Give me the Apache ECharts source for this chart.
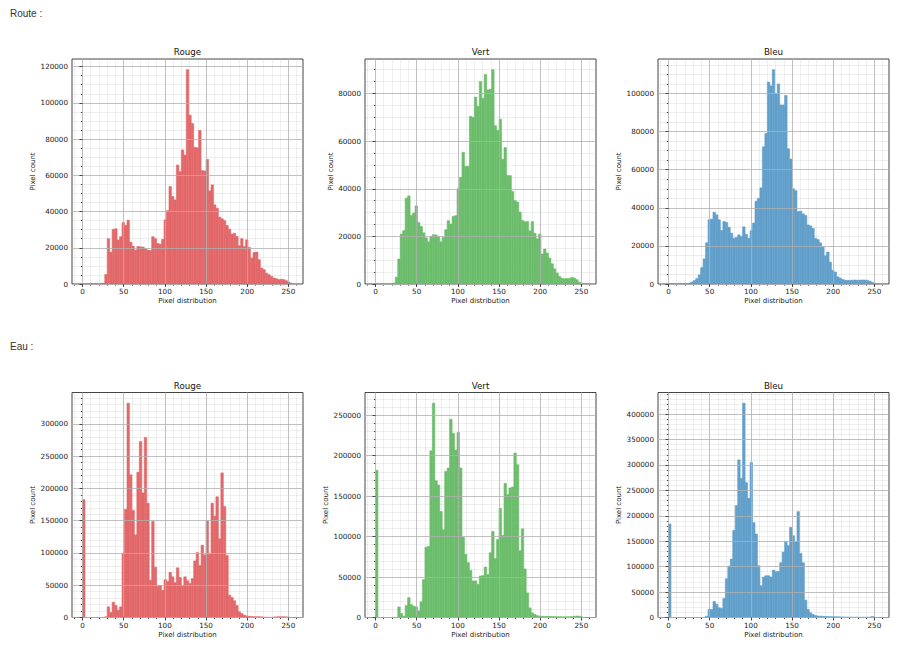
<!DOCTYPE html>
<html>
<head>
<meta charset="utf-8">
<title>Histogrammes Route / Eau</title>
<script src="https://cdn.jsdelivr.net/npm/echarts@6/dist/echarts.min.js"></script>
<style>
  html, body { margin: 0; padding: 0; background: #fff; }
  #chart { width: 914px; height: 648px; }
</style>
</head>
<body>
<div id="chart"></div>
<script>
// 85 bins of width 3 covering 0..255
const binWidth = 3;

const routeRouge = [
  0, 0, 0, 0, 0, 0, 0, 0,
  500, 5200, 25000, 17600, 30200, 30500, 24300, 26100, 33900, 32400,
  35200, 23100, 20900, 18700, 20700, 20500, 20400, 19400, 18700, 18500,
  26100, 25000, 22400, 22000, 24600, 35400, 40500, 53800, 48300, 46400,
  65700, 62000, 74000, 71200, 118300, 93200, 88600, 75400, 75200, 84800,
  62600, 62400, 68800, 51400, 54700, 43700, 41800, 36900, 36000, 35000,
  32300, 30300, 27500, 28000, 26300, 21100, 25000, 20700, 24400, 20200,
  14300, 17400, 17600, 13400, 8800, 7900, 6000, 5100, 4200, 3300,
  2900, 2400, 2600, 2400, 1800, 1100, 400
];
const routeVert = [
  0, 0, 0, 0, 0, 0, 0,
  400, 2900, 10500, 21000, 22400, 36100, 37000, 28800, 29800, 32800,
  25800, 24200, 21500, 19400, 17700, 20000, 20700, 20600, 20000, 17700,
  19600, 22800, 26600, 25200, 28400, 28700,
  40000, 44800, 55300, 49400, 49400, 70400, 70000, 78500, 74600, 85000, 78000, 88000, 81500, 81800, 90000,
  66500, 64500, 69200, 52400, 57300, 45600, 45500, 38900, 35000, 34400,
  30200, 26700, 26100, 26300, 22300, 26200, 21300, 19000, 21000, 12600,
  14700, 13000, 10900, 8500, 6400, 4600, 3200, 2400, 2200, 2300,
  2300, 2800, 2500, 1800, 800, 300, 0
];
const routeBleu = [
  0, 0, 0, 0, 0, 0, 0,
  200, 400, 1000, 1800, 2800, 4800, 8600, 13200, 21600, 33700,
  34000, 37700, 36300, 33700, 28100, 32800, 32300, 29800, 26700, 24000,
  24500, 25800, 25000, 30000, 26000, 24000, 28000, 32000, 43500, 45000,
  50500, 72000, 79000, 106000, 104000, 112500, 100000, 105000, 94000, 94000,
  99000, 71000, 65600,
  50000, 49000, 38000, 38200, 36800, 36000, 31000, 30500, 29200, 24000,
  23300, 21600, 19400, 14800, 16800, 11500, 7200, 6300, 3800,
  3100, 2400, 2000, 1900, 1900, 2000, 2100, 2000, 2000, 2100,
  2100, 1900, 1500, 900, 300, 0
];
const eauRouge = [
  182500,
  0, 0, 0, 0, 0, 0, 0, 0,
  1000, 16500, 7700, 23700, 18500, 11300, 16500, 99000, 167500, 332000,
  221000, 166000, 128000, 225000, 272500, 193000, 279000, 177000, 57700, 149000,
  78000, 48500, 49500, 42000, 58500, 56000, 70000, 63000, 54000, 77000,
  62000, 48500, 63000, 57000, 52600, 60300, 87600, 100500, 80400, 112000,
  97000, 150000, 98000, 177000, 157000, 187000, 122000, 224000, 172000, 96000,
  34500, 31000, 26000, 18500, 8800, 6000, 3500, 2500, 1800, 1500,
  1300, 1200, 1200, 1000, 700, 500, 300, 200, 700, 1000,
  1200, 1200, 1100, 1000, 500, 200
];
const eauVert = [
  182000,
  0, 0, 0, 0, 0, 0, 0, 0,
  13000, 5000, 1600, 14800, 24600, 16000, 14000, 13100, 8200, 19300,
  46800, 87000, 87800, 206000, 264800, 169000, 163800, 131000, 108400, 180600,
  184700, 245000, 227400, 206900, 228600, 184700, 99300, 78000, 67700, 58300,
  45200, 45200, 41000, 51300, 51700, 62400, 53000, 80000, 106300, 72700,
  96500, 135000, 101400, 165800, 151900, 160100, 161300, 203200, 188800, 82500,
  109600, 60000, 30400, 11900, 5700, 3700, 2300, 1700, 1500, 1400,
  1300, 1300, 1200, 1100, 1000, 1000, 900, 900, 900, 1000,
  1100, 1500, 1800, 1600, 800, 0
];
const eauBleu = [
  184000,
  0, 0, 0, 0, 0, 0, 0, 0, 0, 0, 0, 0, 0, 0,
  2600, 15800, 15800, 31500, 26300, 19000, 17700, 37400, 76200, 101100,
  115000, 171400, 220000, 310000, 273900, 421500, 265400, 234500, 304800, 186500,
  164200, 101800, 62400, 79500, 82100, 82100, 79500, 93300, 90000, 90600,
  107700, 128700, 149100, 141200, 177300, 160900, 149100, 208200, 126100, 107700,
  34200, 15800, 9200, 5900, 3900, 2900, 2500, 2300, 2000, 1800,
  1700, 1600, 1500, 1400, 1200, 1000, 900, 800, 700, 700,
  600, 600, 500, 500, 500, 600, 800, 2000, 500, 0
];

const xTicks = [0, 50, 100, 150, 200, 250];
const xMinorTicks = [-10, 10, 20, 30, 40, 60, 70, 80, 90, 110, 120, 130, 140,
  160, 170, 180, 190, 210, 220, 230, 240, 260];

const sections = ['Route :', 'Eau :'];
const channels = ['Rouge', 'Vert', 'Bleu'];
// tab:red / tab:green / tab:blue at alpha 0.7 over white
const colors = ['rgb(226,104,105)', 'rgb(107,189,107)', 'rgb(98,160,203)'];
const series = [routeRouge, routeVert, routeBleu, eauRouge, eauVert, eauBleu];
const yStep = [20000, 20000, 20000, 50000, 50000, 50000];
const yMinorStep = [5000, 5000, 5000, 10000, 10000, 10000];

// panel boxes (pixels)
const boxes = [
  { left: 72, top: 59, width: 231, height: 225, gap: 35 },
  { left: 365, top: 59, width: 231, height: 225, gap: 30 },
  { left: 658, top: 59, width: 231, height: 225, gap: 35 },
  { left: 72, top: 392.5, width: 231, height: 225, gap: 35 },
  { left: 365, top: 392.5, width: 231, height: 225, gap: 35 },
  { left: 658, top: 392.5, width: 231, height: 225, gap: 35 }
];

const font = 'DejaVu Sans';
const chart = echarts.init(document.getElementById('chart'), null, { renderer: 'svg' });

const grid = [], xAxis = [], yAxis = [], seriesList = [], graphic = [];

series.forEach((counts, i) => {
  const b = boxes[i];
  grid.push({ left: b.left, top: b.top, width: b.width, height: b.height,
    show: true, borderColor: '#444', borderWidth: 1, backgroundColor: 'transparent' });

  const yMax = Math.max(...counts) * 1.05;
  const yTicks = [], yMinor = [];
  for (let v = 0; v <= yMax; v += yStep[i]) yTicks.push(v);
  for (let v = yMinorStep[i]; v < yMax; v += yMinorStep[i]) {
    if (v % yStep[i] !== 0) yMinor.push(v);
  }

  // major axes drawn above the bars, minor grid below
  xAxis.push({
    gridIndex: i, type: 'value', min: -12.75, max: 267.75, z: 3,
    axisLine: { show: false },
    axisTick: { show: true, customValues: xTicks, length: 3, lineStyle: { color: '#444' } },
    axisLabel: { customValues: xTicks, fontSize: 7.2, color: '#222', margin: 4, fontFamily: font },
    splitLine: { show: true, lineStyle: { color: '#b0b0b0', width: 0.8 } },
    name: 'Pixel distribution', nameLocation: 'middle', nameGap: 13.5,
    nameTextStyle: { fontSize: 7, color: '#222', fontFamily: font }
  });
  xAxis.push({
    gridIndex: i, type: 'value', position: 'bottom', min: -12.75, max: 267.75, z: 0,
    axisLine: { show: false },
    axisTick: { show: true, customValues: xMinorTicks, length: 1.6, lineStyle: { color: '#444' } },
    axisLabel: { show: false },
    splitLine: { show: true, lineStyle: { color: '#b0b0b0', width: 0.8, opacity: 0.25 } }
  });

  yAxis.push({
    gridIndex: i, type: 'value', min: 0, max: yMax, z: 3,
    axisLine: { show: false },
    axisTick: { show: true, customValues: yTicks, length: 3, lineStyle: { color: '#444' } },
    axisLabel: { customValues: yTicks, fontSize: 7.2, color: '#222', margin: 4, fontFamily: font,
      formatter: v => String(v) },
    splitLine: { show: true, lineStyle: { color: '#b0b0b0', width: 0.8 } },
    name: 'Pixel count', nameLocation: 'middle', nameGap: b.gap,
    nameTextStyle: { fontSize: 7, color: '#222', fontFamily: font }
  });
  yAxis.push({
    gridIndex: i, type: 'value', position: 'left', min: 0, max: yMax, z: 0,
    axisLine: { show: false },
    axisTick: { show: true, customValues: yMinor, length: 1.6, lineStyle: { color: '#444' } },
    axisLabel: { show: false },
    splitLine: { show: true, lineStyle: { color: '#b0b0b0', width: 0.8, opacity: 0.25 } }
  });

  const color = colors[i % 3];
  seriesList.push({
    type: 'custom',
    xAxisIndex: 2 * i, yAxisIndex: 2 * i,
    encode: { x: [0, 1], y: 2 },
    data: counts.map((c, k) => [k * binWidth, (k + 1) * binWidth, c]),
    renderItem: (params, api) => {
      const p0 = api.coord([api.value(0), api.value(2)]);
      const p1 = api.coord([api.value(1), 0]);
      return {
        type: 'rect',
        shape: { x: p0[0], y: p0[1], width: p1[0] - p0[0], height: p1[1] - p0[1] },
        style: { fill: color, stroke: color, lineWidth: 0.6 }
      };
    }
  });

  graphic.push({
    type: 'text', x: b.left + b.width / 2, y: b.top - 7,
    style: { text: channels[i % 3], fontSize: 8.7, fontFamily: font, fill: '#111',
      align: 'center', verticalAlign: 'middle' }
  });
});

graphic.push({ type: 'text', x: 10, y: 13,
  style: { text: sections[0], fontSize: 10, fontFamily: 'Liberation Sans', fill: '#333', align: 'left', verticalAlign: 'middle' } });
graphic.push({ type: 'text', x: 10, y: 346,
  style: { text: sections[1], fontSize: 10, fontFamily: 'Liberation Sans', fill: '#333', align: 'left', verticalAlign: 'middle' } });

chart.setOption({
  animation: false,
  backgroundColor: '#fff',
  grid, xAxis, yAxis, series: seriesList, graphic
});
</script>
</body>
</html>
